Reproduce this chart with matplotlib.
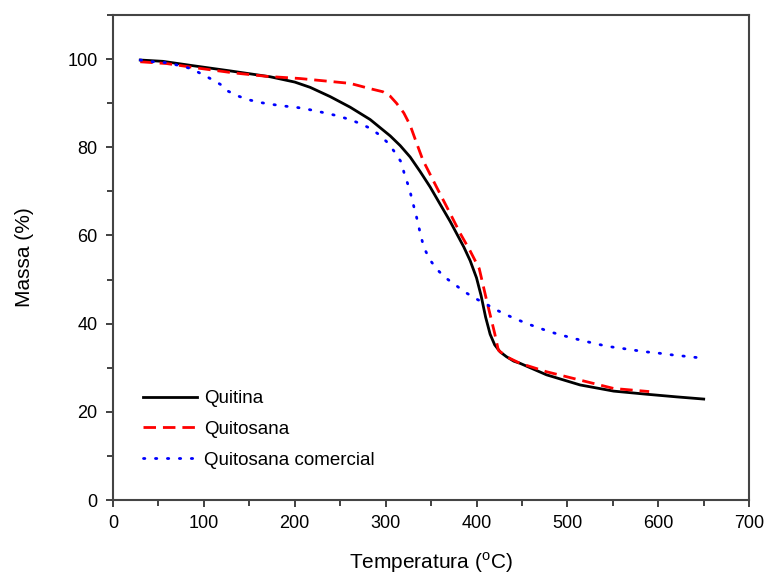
import matplotlib
matplotlib.use("Agg")
import matplotlib.pyplot as plt
from matplotlib.ticker import MultipleLocator

plt.rcParams["font.family"] = ["Liberation Sans", "DejaVu Sans"]
plt.rcParams["mathtext.fontset"] = "custom"
plt.rcParams["mathtext.rm"] = "Liberation Sans"

# Quitina (black, solid)
temp_quitina = [30, 55, 85, 130, 173, 200, 217, 239, 261, 283, 305, 316, 327, 338, 349,
                358, 371, 378, 386, 393, 400, 405, 410, 415, 420, 426, 433, 441, 448, 477,
                514, 551, 587, 620, 650]
massa_quitina = [99.8, 99.5, 98.6, 97.3, 96.0, 94.8, 93.6, 91.5, 89.1, 86.3, 82.6, 80.4,
                 77.8, 74.5, 71.0, 67.8, 63.2, 60.5, 57.4, 54.3, 50.4, 46.4, 41.5, 37.6,
                 35.2, 33.6, 32.5, 31.5, 31.0, 28.4, 26.1, 24.7, 24.0, 23.4, 22.9]

# Quitosana (red, dashed)
temp_quitosana = [30, 59, 96, 132, 169, 206, 261, 283, 297, 305, 312, 320, 327, 334, 341,
                  356, 371, 382, 393, 403, 411, 420, 424, 433, 448, 477, 514, 551, 590]
massa_quitosana = [99.4, 99.0, 97.9, 96.9, 96.1, 95.6, 94.5, 93.3, 92.6, 91.6, 90.0, 87.8,
                   85.0, 81.0, 77.1, 71.0, 65.0, 60.5, 56.5, 52.5, 45.4, 37.8, 34.0, 32.5,
                   31.0, 29.1, 27.2, 25.3, 24.6]

# Quitosana comercial (blue, dotted)
temp_comercial = [30, 44, 59, 72, 85, 96, 107, 118, 127, 138, 151, 164, 176, 191, 204, 220,
                  231, 246, 259, 272, 283, 292, 301, 309, 317, 321, 326, 330, 334, 338, 342,
                  349, 357, 366, 376, 387, 399, 411, 422, 433, 444, 457, 468, 480, 492, 506,
                  518, 532, 546, 560, 573, 587, 601, 616, 630, 648]
massa_comercial = [99.8, 99.4, 99.2, 98.6, 97.9, 96.8, 95.6, 94.3, 92.7, 91.6, 90.7, 90.1,
                   89.7, 89.3, 89.0, 88.4, 87.9, 87.2, 86.4, 85.4, 84.3, 83.0, 81.3, 79.2,
                   76.7, 73.7, 70.7, 67.4, 64.2, 60.6, 57.3, 54.4, 52.2, 50.4, 48.9, 47.2,
                   45.7, 44.4, 43.1, 42.0, 41.0, 39.9, 39.1, 38.2, 37.5, 36.7, 36.1, 35.4,
                   34.8, 34.4, 34.0, 33.6, 33.3, 32.9, 32.6, 32.2]

fig = plt.figure(figsize=(7.66, 5.79), dpi=100)
ax = fig.add_axes([0.1475, 0.1364, 0.8305, 0.8376])

ax.plot(temp_quitina, massa_quitina, color="black", lw=2.0, label="Quitina")
ax.plot(temp_quitosana, massa_quitosana, color="#ff0000", lw=2.0,
        dashes=(4.5, 2.5), label="Quitosana")
ax.plot(temp_comercial, massa_comercial, color="#0000ff", lw=2.0,
        dashes=(0.5, 3.8), dash_capstyle="round", label="Quitosana comercial")

ax.set_xlim(0, 700)
ax.set_ylim(0, 110)
ax.xaxis.set_major_locator(MultipleLocator(100))
ax.xaxis.set_minor_locator(MultipleLocator(50))
ax.yaxis.set_major_locator(MultipleLocator(20))
ax.yaxis.set_minor_locator(MultipleLocator(10))
ax.tick_params(which="both", direction="out", labelsize=13, color="#333333", width=1.3)
ax.tick_params(which="major", length=5, pad=6)
ax.tick_params(which="minor", length=4)
for s in ax.spines.values():
    s.set_color("#444444")
    s.set_linewidth(1.5)

ax.set_xlabel("Temperatura ($^{\\mathrm{o}}$C)", fontsize=15, labelpad=13)
ax.set_ylabel("Massa (%)", fontsize=15, labelpad=24)

ax.legend(loc="lower left", bbox_to_anchor=(0.02, 0.03), frameon=False, fontsize=13.5,
          handlelength=2.9, handletextpad=0.4, labelspacing=0.72)

fig.savefig("out.png", dpi=100)
